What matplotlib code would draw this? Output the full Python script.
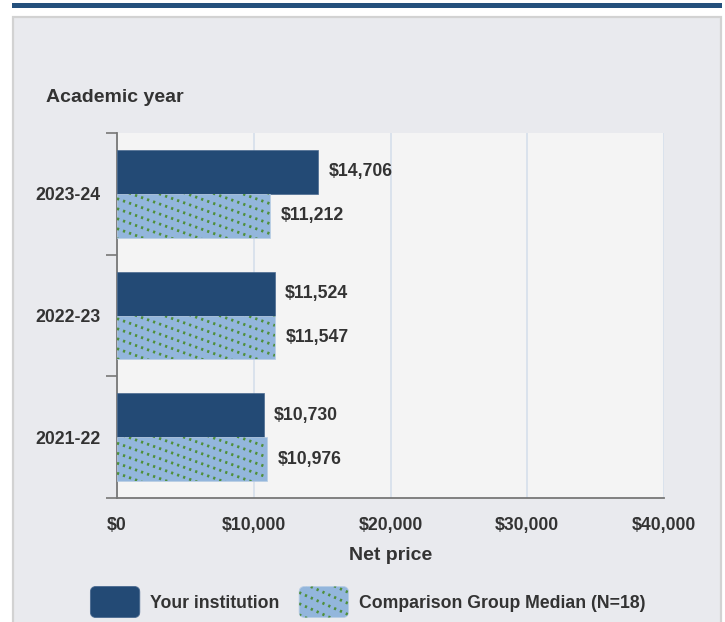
import numpy as np
import matplotlib
matplotlib.use("Agg")
import matplotlib.pyplot as plt
import matplotlib.patches as mpatches
from matplotlib.lines import Line2D
from matplotlib.legend_handler import HandlerBase

plt.rcParams["font.family"] = ["Liberation Sans", "DejaVu Sans"]

YEARS = ["2021-22", "2022-23", "2023-24"]
YOUR_INST = [10730, 11524, 14706]
GROUP_MEDIAN = [10976, 11547, 11212]
X_TICKS = [0, 10000, 20000, 30000, 40000]
SERIES = ["Your institution", "Comparison Group Median (N=18)"]

DARK = "#234a75"
LIGHT = "#93b6dc"
DOTS = "#4f8f3a"
TXT = "#333333"
PANEL = "#e9eaee"
PLOT_BG = "#f4f4f4"
FS = 12.7

W_PX, H_PX, DPI = 725, 622, 100


class RoundBoxHandler(HandlerBase):
    """rounded legend swatch, optionally with dotted diagonal hatching"""

    def __init__(self, face, edge, dotted=False):
        super().__init__()
        self.face, self.edge, self.dotted = face, edge, dotted

    def create_artists(self, legend, orig_handle, xdescent, ydescent, width, height, fontsize, trans):
        x0, y0 = -xdescent, -ydescent - 3
        height = height + 6
        box = mpatches.FancyBboxPatch((x0, y0), width, height,
                                      boxstyle="round,pad=0,rounding_size=4",
                                      facecolor=self.face, edgecolor=self.edge,
                                      linewidth=0.6, transform=trans)
        arts = [box]
        if self.dotted:
            slope = -0.45
            for s in np.arange(y0 + 2, y0 + height - slope * width + 8, 8):
                ln = Line2D([x0, x0 + width], [s, s + slope * width], color=DOTS,
                            linewidth=2.0, linestyle=(0, (0.8, 1.5)), transform=trans)
                ln.set_clip_path(box)
                arts.append(ln)
        return arts


fig = plt.figure(figsize=(W_PX / DPI, H_PX / DPI), dpi=DPI)
fig.patch.set_facecolor("white")

# top rule + grey panel (behind the axes)
fig.patches.append(mpatches.Rectangle((12 / W_PX, 1 - 8 / H_PX), 710 / W_PX, 5 / H_PX,
                                      transform=fig.transFigure, facecolor="#24507c",
                                      edgecolor="none", zorder=-5))
fig.patches.append(mpatches.Rectangle((13 / W_PX, -0.01), 708 / W_PX, 1 - 17 / H_PX + 0.01,
                                      transform=fig.transFigure, facecolor=PANEL,
                                      edgecolor="#d2d2d2", linewidth=1.6, zorder=-5))

ax = fig.add_axes([117 / W_PX, 1 - 498 / H_PX, 547 / W_PX, 365 / H_PX])
ax.set_facecolor(PLOT_BG)

y = np.arange(len(YEARS))
h = 0.36
b1 = ax.barh(y + h / 2, YOUR_INST, h, color=DARK, edgecolor="#4a6a90", linewidth=0.5, zorder=3)
b2 = ax.barh(y - h / 2, GROUP_MEDIAN, h, color=LIGHT, edgecolor="#b8cde4", linewidth=0.5, zorder=3)

ax.set_xlim(0, 40000)
ax.set_ylim(-0.5, len(YEARS) - 0.5)

for bars, vals in ((b1, YOUR_INST), (b2, GROUP_MEDIAN)):
    for rect, v in zip(bars, vals):
        ax.annotate(f"${v:,}", (v, rect.get_y() + rect.get_height() / 2),
                    xytext=(7.5, 0), textcoords="offset points", va="center", ha="left",
                    fontsize=FS, fontweight="bold", color=TXT)

# dotted diagonal hatching on the comparison bars
fig.canvas.draw()
inv = ax.transData.inverted()
for rect in b2:
    x0, y0 = ax.transData.transform((rect.get_x(), rect.get_y()))
    x1, y1 = ax.transData.transform((rect.get_x() + rect.get_width(), rect.get_y() + rect.get_height()))
    slope = -0.36
    span = x1 - x0
    start = y1 - slope * span + 10
    while start > y0 - 10:
        p = inv.transform([(x0, start), (x1, start + slope * span)])
        ln = Line2D(p[:, 0], p[:, 1], color=DOTS, linewidth=2.0,
                    linestyle=(0, (0.8, 1.5)), zorder=4)
        ax.add_line(ln)
        ln.set_clip_path(rect)
        start -= 10

ax.set_xticks(X_TICKS)
ax.set_xticklabels([f"${t:,}" for t in X_TICKS], fontsize=FS, fontweight="bold", color=TXT)
ax.set_yticks(y)
ax.set_yticklabels(YEARS, fontsize=FS, fontweight="bold", color=TXT)
ax.set_yticks(np.arange(len(YEARS) + 1) - 0.5, minor=True)
ax.tick_params(axis="y", which="major", length=0, pad=12)
ax.tick_params(axis="y", which="minor", length=8, color="#777777", width=1.2)
ax.tick_params(axis="x", length=0, pad=14)

ax.grid(axis="x", color="#d5dfeb", linewidth=1.2, zorder=0)
ax.set_axisbelow(True)
for s in ("top", "right"):
    ax.spines[s].set_visible(False)
for s in ("left", "bottom"):
    ax.spines[s].set_color("#777777")
    ax.spines[s].set_linewidth(1.3)

ax.set_xlabel("Net price", fontsize=14, fontweight="bold", color=TXT, labelpad=9)
fig.text(46 / W_PX, 1 - 98 / H_PX, "Academic year", fontsize=14, fontweight="bold",
         color=TXT, va="center", ha="left")

h1 = mpatches.Patch(facecolor=DARK, label=SERIES[0])
h2 = mpatches.Patch(facecolor=LIGHT, label=SERIES[1])
leg = fig.legend(handles=[h1, h2],
                 handler_map={h1: RoundBoxHandler(DARK, "#4a6a90"),
                              h2: RoundBoxHandler(LIGHT, "#b8cde4", dotted=True)},
                 loc="center", bbox_to_anchor=(368 / W_PX, 1 - 602 / H_PX), ncol=2, frameon=False,
                 handlelength=2.8, handleheight=1.6, handletextpad=0.6,
                 columnspacing=1.1, prop={"weight": "bold", "size": FS})
for t in leg.get_texts():
    t.set_color(TXT)

fig.savefig("out.png", dpi=DPI, facecolor="white")
